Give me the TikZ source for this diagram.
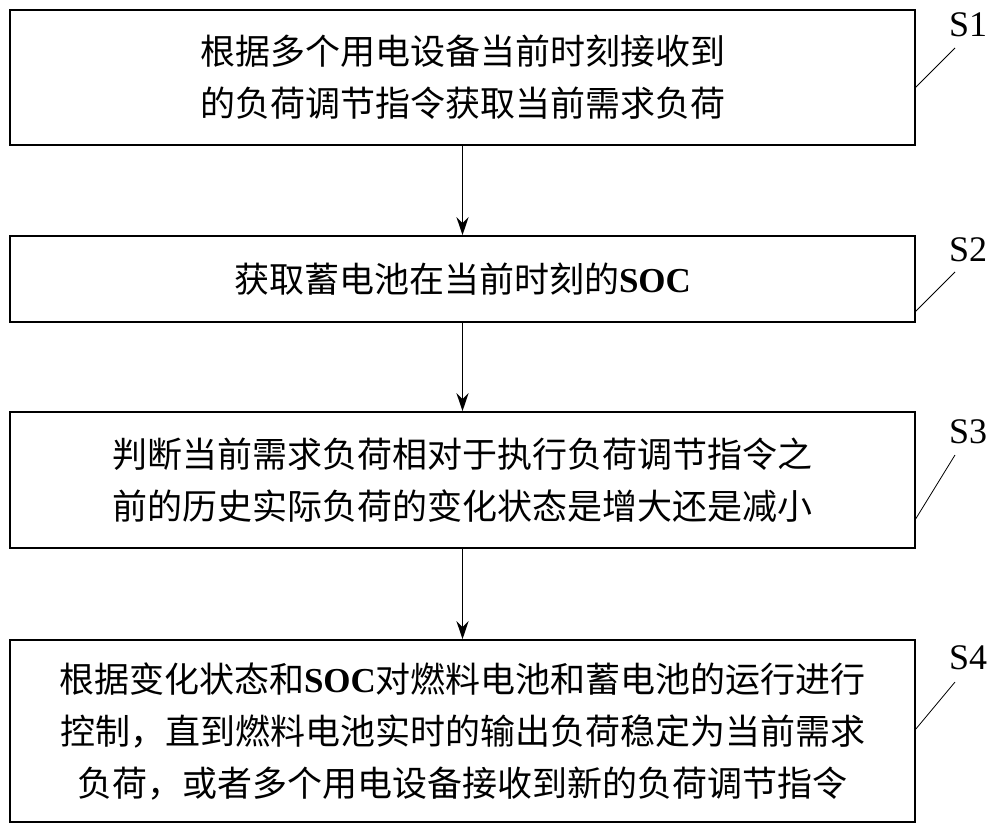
\documentclass[tikz,border=0pt]{standalone}
\usepackage{fontspec}
\usetikzlibrary{arrows.meta}
\setmainfont{Liberation Serif}
\newfontfamily\cjk{Noto Sans CJK SC}
\begin{document}
\begin{tikzpicture}[x=0.5pt,y=-0.5pt,
 box/.style={draw,line width=0.8pt,minimum width=452.5pt,inner sep=0pt,align=center,font=\cjk\fontsize{17.5}{26}\selectfont},
 arr/.style={-{Stealth[length=9pt,width=6pt]},line width=0.8pt},
 lab/.style={font=\fontsize{18}{20}\selectfont}]
\useasboundingbox (0,0) rectangle (1000,832);
\node[box,minimum height=67.5pt] (b1) at (462.5,77.5) {根据多个用电设备当前时刻接收到\\的负荷调节指令获取当前需求负荷};
\node[box,minimum height=43pt] (b2) at (462.5,279) {获取蓄电池在当前时刻的{\rmfamily\bfseries SOC}};
\node[box,minimum height=68pt] (b3) at (462.5,480) {判断当前需求负荷相对于执行负荷调节指令之\\前的历史实际负荷的变化状态是增大还是减小};
\node[box,minimum height=91pt] (b4) at (462.5,731) {根据变化状态和{\rmfamily\bfseries SOC}对燃料电池和蓄电池的运行进行\\控制，直到燃料电池实时的输出负荷稳定为当前需求\\负荷，或者多个用电设备接收到新的负荷调节指令};
\draw[arr] (b1) -- (b2);
\draw[arr] (b2) -- (b3);
\draw[arr] (b3) -- (b4);
\node[lab] (l1) at (968,25) {S1};
\node[lab] (l2) at (968,250) {S2};
\node[lab] (l3) at (968,432) {S3};
\node[lab] (l4) at (968,658) {S4};
\coordinate (c1) at (915,88); \coordinate (c2) at (915,312);
\coordinate (c3) at (915,520); \coordinate (c4) at (915,730);
\draw (c1) -- (955,48);
\draw (c2) -- (955,272);
\draw (c3) -- (955,455);
\draw (c4) -- (955,682);
\end{tikzpicture}
\end{document}
